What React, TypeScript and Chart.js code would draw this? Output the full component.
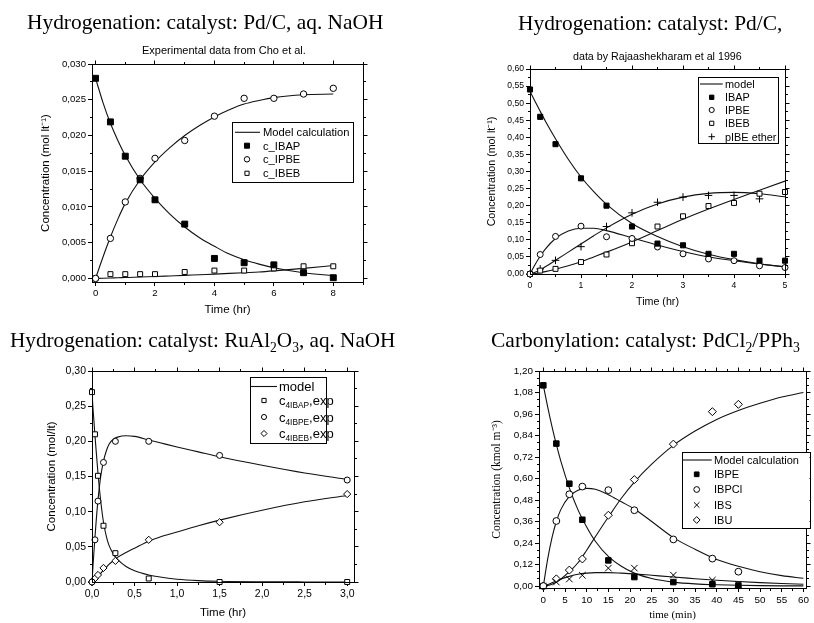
import React, { useEffect, useRef } from 'react';
import { Chart, registerables } from 'chart.js';
import { drawPoint } from 'chart.js/helpers';

Chart.register(...registerables);

// ---------------- Panel 1 data (Cho et al.) ----------------
const p1Time = [0, 0.5, 1, 1.5, 2, 3, 4, 5, 6, 7, 8];
const p1IBAP = [0.028, 0.0219, 0.0171, 0.0138, 0.011, 0.0076, 0.0028, 0.0022, 0.0019, 0.0008, 0.0001];
const p1IPBE = [0, 0.0056, 0.0107, 0.014, 0.0168, 0.0193, 0.0227, 0.0252, 0.0252, 0.0258, 0.0266];
const p1IBEB = [0, 0.0006, 0.0006, 0.0006, 0.0006, 0.0009, 0.0011, 0.0011, 0.0014, 0.0017, 0.0017];
const p1ModelTime = [0, 0.25, 0.5, 0.75, 1, 1.5, 2, 2.5, 3, 3.5, 4, 4.5, 5, 5.5, 6, 7, 8];
const p1ModelIBAP = [0.028, 0.0246, 0.0217, 0.0193, 0.0172, 0.0138, 0.0112, 0.009, 0.0072, 0.0057, 0.0045, 0.0034, 0.0026, 0.002, 0.0015, 0.0008, 0.0004];
const p1ModelIPBE = [0, 0.003, 0.0058, 0.0083, 0.0105, 0.0138, 0.0163, 0.0183, 0.02, 0.0214, 0.0226, 0.0236, 0.0244, 0.0249, 0.0253, 0.0257, 0.0258];
const p1ModelIBEB = [0, 0.00002, 0.00005, 0.0001, 0.00012, 0.0002, 0.00027, 0.00035, 0.00043, 0.00052, 0.0006, 0.0007, 0.0008, 0.0009, 0.00105, 0.0014, 0.0018];
const p1Legend = ['Model calculation', 'c_IBAP', 'c_IPBE', 'c_IBEB'];

// ---------------- Panel 2 data (Rajaashekharam et al. 1996) ----------------
const p2Time = [0, 0.2, 0.5, 1, 1.5, 2, 2.5, 3, 3.5, 4, 4.5, 5];
const p2IBAP = [0.54, 0.46, 0.38, 0.28, 0.2, 0.139, 0.089, 0.084, 0.059, 0.059, 0.039, 0.039];
const p2IPBE = [0, 0.057, 0.11, 0.14, 0.109, 0.104, 0.079, 0.059, 0.044, 0.039, 0.024, 0.019];
const p2IBEB = [0, 0.01, 0.015, 0.035, 0.057, 0.09, 0.139, 0.169, 0.199, 0.208, 0.235, 0.24];
const p2EtherTime = [0, 0.2, 0.5, 1, 1.5, 2, 2.5, 3, 3.5, 4, 4.5];
const p2Ether = [0, 0.015, 0.04, 0.08, 0.139, 0.179, 0.21, 0.225, 0.23, 0.23, 0.22];
const p2ModelTime = [0, 0.1, 0.2, 0.3, 0.5, 0.75, 1, 1.25, 1.5, 2, 2.5, 3, 3.5, 4, 4.5, 5];
const p2ModelIBAP = [0.535, 0.505, 0.476, 0.448, 0.396, 0.336, 0.284, 0.241, 0.204, 0.148, 0.11, 0.08, 0.058, 0.042, 0.03, 0.021];
const p2ModelIPBE = [0, 0.028, 0.052, 0.073, 0.104, 0.126, 0.134, 0.134, 0.127, 0.106, 0.085, 0.066, 0.05, 0.039, 0.029, 0.021];
const p2ModelIBEB = [0, 0.001, 0.004, 0.007, 0.014, 0.024, 0.036, 0.05, 0.064, 0.094, 0.127, 0.16, 0.19, 0.218, 0.245, 0.272];
const p2ModelEther = [0, 0.005, 0.012, 0.021, 0.04, 0.064, 0.088, 0.112, 0.135, 0.175, 0.205, 0.225, 0.236, 0.239, 0.235, 0.226];
const p2Legend = ['model', 'IBAP', 'IPBE', 'IBEB', 'pIBE ether'];

// ---------------- Panel 3 data (RuAl2O3) ----------------
const p3Time = [0, 0.035, 0.07, 0.135, 0.275, 0.667, 1.5, 3.0];
const p3IBAP = [0.27, 0.21, 0.151, 0.08, 0.041, 0.005, 0, 0];
const p3IBPE = [0, 0.06, 0.115, 0.17, 0.2, 0.2, 0.18, 0.145];
const p3IBEB = [0, 0.005, 0.01, 0.02, 0.03, 0.06, 0.085, 0.125];
const p3ModelTime = [0, 0.01, 0.02, 0.035, 0.05, 0.07, 0.1, 0.135, 0.17, 0.2, 0.25, 0.3, 0.4, 0.5, 0.667, 0.8, 1.0, 1.25, 1.5, 2.0, 2.5, 3.0];
const p3ModelIBAP = [0.27, 0.25, 0.233, 0.208, 0.185, 0.155, 0.118, 0.085, 0.064, 0.052, 0.04, 0.032, 0.022, 0.016, 0.01, 0.007, 0.004, 0.002, 0.001, 0.0003, 0.0001, 0];
const p3ModelIBPE = [0, 0.02, 0.038, 0.064, 0.088, 0.116, 0.148, 0.172, 0.187, 0.196, 0.203, 0.206, 0.208, 0.207, 0.202, 0.198, 0.192, 0.185, 0.178, 0.166, 0.155, 0.146];
const p3ModelIBEB = [0, 0.0005, 0.0015, 0.003, 0.005, 0.008, 0.012, 0.017, 0.021, 0.025, 0.03, 0.035, 0.042, 0.048, 0.058, 0.064, 0.071, 0.08, 0.088, 0.102, 0.114, 0.123];
const p3LegendSub = ['4IBAP', '4IBPE', '4IBEB'];

// ---------------- Panel 4 data (Carbonylation) ----------------
const p4Time = [0, 3, 6, 9, 15, 21, 30, 39, 45];
const p4IBPE = [1.12, 0.795, 0.571, 0.37, 0.143, 0.05, 0.022, 0.01, 0.003];
const p4IBPCl = [0, 0.363, 0.512, 0.555, 0.535, 0.423, 0.26, 0.153, 0.08];
const p4IBS = [0, 0.022, 0.039, 0.06, 0.1, 0.1, 0.061, 0.033, 0.01];
const p4IBU = [0, 0.04, 0.089, 0.151, 0.395, 0.594, 0.792, 0.973, 1.014];
const p4ModelTime = [0, 1, 2, 3, 4, 6, 8, 10, 12, 15, 18, 21, 25, 30, 35, 40, 45, 50, 55, 60];
const p4ModelIBPE = [1.12, 1.0, 0.89, 0.79, 0.7, 0.548, 0.425, 0.33, 0.25, 0.165, 0.11, 0.072, 0.042, 0.022, 0.012, 0.007, 0.004, 0.002, 0.001, 0.001];
const p4ModelIBPCl = [0, 0.15, 0.27, 0.36, 0.425, 0.5, 0.535, 0.545, 0.54, 0.51, 0.47, 0.43, 0.36, 0.27, 0.205, 0.148, 0.11, 0.08, 0.058, 0.043];
const p4ModelIBS = [0, 0.008, 0.018, 0.028, 0.038, 0.054, 0.066, 0.072, 0.075, 0.075, 0.072, 0.068, 0.06, 0.05, 0.041, 0.032, 0.025, 0.019, 0.014, 0.01];
const p4ModelIBU = [0, 0.003, 0.01, 0.022, 0.038, 0.08, 0.13, 0.2, 0.275, 0.385, 0.49, 0.58, 0.68, 0.785, 0.865, 0.93, 0.98, 1.02, 1.055, 1.08];
const p4Legend = ['Model calculation', 'IBPE', 'IBPCl', 'IBS', 'IBU'];

// ---------------- styling helpers ----------------
const SANS = '"Liberation Sans", Arial, sans-serif';
const SERIF = '"Liberation Serif", "Times New Roman", serif';
const W = 814;
const H = 623;

type Seg = { t: string; sub?: boolean };
type Marker = { style: string; fill: string; r: number };

const sqFilled = (r: number): Marker => ({ style: 'rect', fill: '#000', r });
const sqOpen = (r: number): Marker => ({ style: 'rect', fill: '#fff', r });
const circOpen = (r: number): Marker => ({ style: 'circle', fill: '#fff', r });
const diamOpen = (r: number): Marker => ({ style: 'rectRot', fill: '#fff', r });
const plus = (r: number): Marker => ({ style: 'cross', fill: '#fff', r });
const xmark = (r: number): Marker => ({ style: 'crossRot', fill: '#fff', r });

const pts = (xs: number[], ys: number[]) => xs.map((x, i) => ({ x, y: ys[i] }));

function markerDs(label: string, xs: number[], ys: number[], m: Marker) {
  return {
    label,
    data: pts(xs, ys),
    showLine: false,
    pointStyle: m.style,
    pointRadius: m.r,
    pointHoverRadius: m.r,
    pointBackgroundColor: m.fill,
    pointBorderColor: '#000',
    pointBorderWidth: 1,
    clip: false,
    order: 0,
  };
}

function modelDs(label: string, xs: number[], ys: number[]) {
  return {
    label,
    data: pts(xs, ys),
    showLine: true,
    pointRadius: 0,
    pointHoverRadius: 0,
    borderColor: '#111',
    borderWidth: 1.1,
    cubicInterpolationMode: 'monotone',
    fill: false,
    order: 1,
  };
}

const fmtInt = (v: number) => String(Math.round(v));
const fmtDec = (d: number) => (v: number) => (Math.abs(v) < 1e-9 ? 0 : v).toFixed(d).replace('.', ',');

interface AxisSpec {
  min: number; max: number; step: number; minor: number;
  fmt: (v: number) => string;
  title: string; titleFamily: string; titleSize: number; titleCenter: number;
  tickSize: number;
}
interface LegendEntry { marker: Marker | null; label: Seg[] }
interface LegendSpec {
  box: [number, number, number, number];
  lineX: [number, number]; markerX: number; textX: number;
  rows: number[]; size: number; entries: LegendEntry[];
}
interface PanelSpec {
  area: { l: number; t: number; r: number; b: number };
  x: AxisSpec; y: AxisSpec;
  heading: { segs: Seg[]; x: number; y: number; size: number };
  sub?: { text: string; x: number; y: number; size: number };
  legend: LegendSpec;
  datasets: any[];
}

function drawRich(ctx: CanvasRenderingContext2D, segs: Seg[], x: number, y: number, size: number, family: string) {
  let cx = x;
  ctx.textAlign = 'left';
  ctx.textBaseline = 'alphabetic';
  for (const s of segs) {
    const fs = s.sub ? size * 0.64 : size;
    ctx.font = `${fs}px ${family}`;
    const dy = s.sub ? size * 0.24 : 0;
    ctx.fillText(s.t, cx, y + dy);
    cx += ctx.measureText(s.t).width;
  }
}

const al = (p: number) => Math.round(p - 0.5) + 0.5;

function minorValues(min: number, max: number, minor: number, majors: number[]) {
  const out: number[] = [];
  for (let k = Math.ceil(min / minor - 1e-9); k * minor <= max + 1e-9; k++) {
    const v = k * minor;
    if (!majors.some((m) => Math.abs(m - v) < minor * 1e-3)) out.push(v);
  }
  return out;
}

function makeDecor(p: PanelSpec) {
  return {
    id: 'decor',
    afterDraw(chart: any) {
      const ctx: CanvasRenderingContext2D = chart.ctx;
      const ca = chart.chartArea;
      const xs = chart.scales.x;
      const ys = chart.scales.y;
      ctx.save();
      ctx.strokeStyle = '#000';
      ctx.lineWidth = 1;
      const L = al(ca.left), R = al(ca.right), T = al(ca.top), B = al(ca.bottom);
      ctx.strokeRect(L, T, R - L, B - T);
      const seg = (x1: number, y1: number, x2: number, y2: number) => {
        ctx.beginPath(); ctx.moveTo(x1, y1); ctx.lineTo(x2, y2); ctx.stroke();
      };
      const xMaj = xs.ticks.map((t: any) => t.value);
      const yMaj = ys.ticks.map((t: any) => t.value);
      for (const v of xMaj) { const px = al(xs.getPixelForValue(v)); seg(px, T, px, T - 4); }
      for (const v of yMaj) { const py = al(ys.getPixelForValue(v)); seg(R, py, R + 4, py); }
      for (const v of minorValues(p.x.min, p.x.max, p.x.minor, xMaj)) {
        const px = al(xs.getPixelForValue(v));
        seg(px, B, px, B + 2.5); seg(px, T, px, T - 2.5);
      }
      for (const v of minorValues(p.y.min, p.y.max, p.y.minor, yMaj)) {
        const py = al(ys.getPixelForValue(v));
        seg(L, py, L - 2.5, py); seg(R, py, R + 2.5, py);
      }
      // headings
      ctx.fillStyle = '#000';
      drawRich(ctx, p.heading.segs, p.heading.x, p.heading.y, p.heading.size, SERIF);
      if (p.sub) {
        ctx.font = `${p.sub.size}px ${SANS}`;
        ctx.textAlign = 'left';
        ctx.textBaseline = 'middle';
        ctx.fillText(p.sub.text, p.sub.x, p.sub.y);
      }
      // legend
      const lg = p.legend;
      const [bl, bt, br, bb] = lg.box;
      ctx.fillStyle = '#fff';
      ctx.fillRect(bl, bt, br - bl, bb - bt);
      ctx.strokeStyle = '#000';
      ctx.lineWidth = 1;
      ctx.strokeRect(al(bl), al(bt), Math.round(br - bl), Math.round(bb - bt));
      lg.entries.forEach((e, i) => {
        const y = lg.rows[i];
        if (!e.marker) {
          ctx.strokeStyle = '#111';
          ctx.lineWidth = 1.1;
          seg(lg.lineX[0], y, lg.lineX[1], y);
        } else {
          ctx.fillStyle = e.marker.fill;
          ctx.strokeStyle = '#000';
          ctx.lineWidth = 1;
          drawPoint(ctx, { pointStyle: e.marker.style as any, radius: e.marker.r * 0.85, rotation: 0, borderWidth: 1 } as any, lg.markerX, y);
        }
        ctx.fillStyle = '#000';
        drawRich(ctx, e.label, lg.textX, y + lg.size * 0.36, lg.size, SANS);
      });
      ctx.restore();
    },
  };
}

function axisOptions(a: AxisSpec, horizontal: boolean, size: number, titlePad: number, fontColor = '#000') {
  return {
    type: 'linear',
    position: horizontal ? 'bottom' : 'left',
    min: a.min,
    max: a.max,
    afterFit: (s: any) => {
      if (horizontal) { s.height = size; s.paddingLeft = 0; s.paddingRight = 0; }
      else { s.width = size; s.paddingTop = 0; s.paddingBottom = 0; }
    },
    ticks: {
      stepSize: a.step,
      includeBounds: false,
      autoSkip: false,
      maxRotation: 0,
      minRotation: 0,
      padding: 2,
      color: fontColor,
      font: { family: SANS, size: a.tickSize },
      callback: (v: any) => a.fmt(Number(v)),
    },
    title: {
      display: true,
      text: a.title,
      color: fontColor,
      font: { family: a.titleFamily, size: a.titleSize },
      padding: horizontal ? { top: 0, bottom: titlePad } : { top: titlePad, bottom: 0 },
    },
    grid: { display: true, drawOnChartArea: false, drawTicks: true, tickLength: 4, color: '#000', lineWidth: 1 },
    border: { display: true, color: '#000', width: 1 },
  };
}

function buildConfig(p: PanelSpec) {
  const { l, t, r, b } = p.area;
  const xlh = p.x.titleSize * 1.2;
  const XH = Math.min(p.x.titleCenter - b + xlh / 2, H - b);
  const xpb = Math.max(0, b + XH - xlh / 2 - p.x.titleCenter);
  const YW = 64;
  const ylh = p.y.titleSize * 1.2;
  const ypt = Math.max(0, p.y.titleCenter - (l - YW) - ylh / 2);
  return {
    type: 'scatter',
    data: { datasets: p.datasets },
    options: {
      responsive: false,
      animation: false,
      events: [],
      layout: { autoPadding: false, padding: { left: l - YW, top: t, right: W - r, bottom: H - b - XH } },
      plugins: { legend: { display: false }, tooltip: { enabled: false }, title: { display: false } },
      scales: {
        x: axisOptions(p.x, true, XH, xpb),
        y: axisOptions(p.y, false, YW, ypt),
      },
    },
    plugins: [makeDecor(p)],
  } as any;
}

// ---------------- panel specs ----------------
const panel1: PanelSpec = {
  area: { l: 92, t: 64, r: 363, b: 282 },
  x: { min: -0.12, max: 9, step: 2, minor: 1, fmt: fmtInt, title: 'Time (hr)', titleFamily: SANS, titleSize: 11.5, titleCenter: 310, tickSize: 9.6 },
  y: { min: -0.0005, max: 0.03, step: 0.005, minor: 0.0025, fmt: fmtDec(3), title: 'Concentration (mol lt\u207B\u00B9)', titleFamily: SANS, titleSize: 11.5, titleCenter: 46, tickSize: 9.6 },
  heading: { segs: [{ t: 'Hydrogenation: catalyst: Pd/C, aq. NaOH' }], x: 27, y: 29.3, size: 21.4 },
  sub: { text: 'Experimental data from Cho et al.', x: 142, y: 51, size: 11 },
  legend: {
    box: [232, 122, 353, 182], lineX: [235, 260], markerX: 247, textX: 263,
    rows: [132.3, 145.7, 159.3, 173.3], size: 11.2,
    entries: [
      { marker: null, label: [{ t: p1Legend[0] }] },
      { marker: sqFilled(4.2), label: [{ t: p1Legend[1] }] },
      { marker: circOpen(3.2), label: [{ t: p1Legend[2] }] },
      { marker: sqOpen(3.5), label: [{ t: p1Legend[3] }] },
    ],
  },
  datasets: [
    markerDs(p1Legend[1], p1Time, p1IBAP, sqFilled(4.2)),
    markerDs(p1Legend[2], p1Time, p1IPBE, circOpen(3.2)),
    markerDs(p1Legend[3], p1Time, p1IBEB, sqOpen(3.5)),
    modelDs('model IBAP', p1ModelTime, p1ModelIBAP),
    modelDs('model IPBE', p1ModelTime, p1ModelIPBE),
    modelDs('model IBEB', p1ModelTime, p1ModelIBEB),
  ],
};

const panel2: PanelSpec = {
  area: { l: 530, t: 69, r: 785, b: 274 },
  x: { min: 0, max: 5, step: 1, minor: 0.5, fmt: fmtInt, title: 'Time (hr)', titleFamily: SANS, titleSize: 10.7, titleCenter: 301.7, tickSize: 8.6 },
  y: { min: 0, max: 0.6, step: 0.05, minor: 0.025, fmt: fmtDec(2), title: 'Concentration (mol lt\u207B\u00B9)', titleFamily: SANS, titleSize: 10.7, titleCenter: 491.7, tickSize: 8.6 },
  heading: { segs: [{ t: 'Hydrogenation: catalyst: Pd/C,' }], x: 518, y: 30, size: 21.4 },
  sub: { text: 'data by Rajaashekharam et al 1996', x: 573, y: 57.3, size: 10.7 },
  legend: {
    box: [698, 77, 778, 143], lineX: [700, 722.7], markerX: 711.7, textX: 725,
    rows: [84, 97.3, 110, 123.3, 136.7], size: 10.9,
    entries: [
      { marker: null, label: [{ t: p2Legend[0] }] },
      { marker: sqFilled(3.6), label: [{ t: p2Legend[1] }] },
      { marker: circOpen(3), label: [{ t: p2Legend[2] }] },
      { marker: sqOpen(3.5), label: [{ t: p2Legend[3] }] },
      { marker: plus(3.8), label: [{ t: p2Legend[4] }] },
    ],
  },
  datasets: [
    markerDs(p2Legend[1], p2Time, p2IBAP, sqFilled(3.6)),
    markerDs(p2Legend[2], p2Time, p2IPBE, circOpen(3)),
    markerDs(p2Legend[3], p2Time, p2IBEB, sqOpen(3.5)),
    markerDs(p2Legend[4], p2EtherTime, p2Ether, plus(3.8)),
    modelDs('model IBAP', p2ModelTime, p2ModelIBAP),
    modelDs('model IPBE', p2ModelTime, p2ModelIPBE),
    modelDs('model IBEB', p2ModelTime, p2ModelIBEB),
    modelDs('model ether', p2ModelTime, p2ModelEther),
  ],
};

const panel3: PanelSpec = {
  area: { l: 92, t: 371, r: 354, b: 582 },
  x: { min: 0, max: 3.08, step: 0.5, minor: 0.25, fmt: fmtDec(1), title: 'Time (hr)', titleFamily: SANS, titleSize: 11.5, titleCenter: 613, tickSize: 10.5 },
  y: { min: 0, max: 0.3, step: 0.05, minor: 0.025, fmt: fmtDec(2), title: 'Concentration (mol/lt)', titleFamily: SANS, titleSize: 11.5, titleCenter: 51.7, tickSize: 10.5 },
  heading: {
    segs: [{ t: 'Hydrogenation: catalyst: RuAl' }, { t: '2', sub: true }, { t: 'O' }, { t: '3', sub: true }, { t: ', aq. NaOH' }],
    x: 10, y: 346.7, size: 21.2,
  },
  legend: {
    box: [250, 377, 326, 443], lineX: [251, 277], markerX: 264, textX: 279,
    rows: [386.5, 400.5, 417, 433.5], size: 13,
    entries: [
      { marker: null, label: [{ t: 'model' }] },
      { marker: sqOpen(3.5), label: [{ t: 'c' }, { t: p3LegendSub[0], sub: true }, { t: ',exp' }] },
      { marker: circOpen(3), label: [{ t: 'c' }, { t: p3LegendSub[1], sub: true }, { t: ',exp' }] },
      { marker: diamOpen(3.6), label: [{ t: 'c' }, { t: p3LegendSub[2], sub: true }, { t: ',exp' }] },
    ],
  },
  datasets: [
    markerDs('c4IBAP,exp', p3Time, p3IBAP, sqOpen(3.5)),
    markerDs('c4IBPE,exp', p3Time, p3IBPE, circOpen(3)),
    markerDs('c4IBEB,exp', p3Time, p3IBEB, diamOpen(3.6)),
    modelDs('model IBAP', p3ModelTime, p3ModelIBAP),
    modelDs('model IBPE', p3ModelTime, p3ModelIBPE),
    modelDs('model IBEB', p3ModelTime, p3ModelIBEB),
  ],
};

const panel4: PanelSpec = {
  area: { l: 539, t: 371, r: 806, b: 588 },
  x: { min: -1, max: 60.6, step: 5, minor: 2.5, fmt: fmtInt, title: 'time (min)', titleFamily: SERIF, titleSize: 11, titleCenter: 615, tickSize: 9.9 },
  y: { min: -0.011, max: 1.2, step: 0.12, minor: 0.04, fmt: fmtDec(2), title: 'Concentration (kmol m\u207B\u00B3)', titleFamily: SERIF, titleSize: 11.5, titleCenter: 496.7, tickSize: 9.9 },
  heading: {
    segs: [{ t: 'Carbonylation: catalyst: PdCl' }, { t: '2', sub: true }, { t: '/PPh' }, { t: '3', sub: true }],
    x: 491, y: 346.7, size: 21.5,
  },
  legend: {
    box: [682, 452, 809.5, 528], lineX: [682, 711.7], markerX: 696.7, textX: 714,
    rows: [460, 474.3, 489.5, 505, 520], size: 11,
    entries: [
      { marker: null, label: [{ t: p4Legend[0] }] },
      { marker: sqFilled(3.9), label: [{ t: p4Legend[1] }] },
      { marker: circOpen(3.4), label: [{ t: p4Legend[2] }] },
      { marker: xmark(4.6), label: [{ t: p4Legend[3] }] },
      { marker: diamOpen(4), label: [{ t: p4Legend[4] }] },
    ],
  },
  datasets: [
    markerDs(p4Legend[1], p4Time, p4IBPE, sqFilled(3.9)),
    markerDs(p4Legend[2], p4Time, p4IBPCl, circOpen(3.4)),
    markerDs(p4Legend[3], p4Time, p4IBS, xmark(4.6)),
    markerDs(p4Legend[4], p4Time, p4IBU, diamOpen(4)),
    modelDs('model IBPE', p4ModelTime, p4ModelIBPE),
    modelDs('model IBPCl', p4ModelTime, p4ModelIBPCl),
    modelDs('model IBS', p4ModelTime, p4ModelIBS),
    modelDs('model IBU', p4ModelTime, p4ModelIBU),
  ],
};

const PANELS = [panel1, panel2, panel3, panel4];

export default function App() {
  const refs = useRef<(HTMLCanvasElement | null)[]>([]);
  useEffect(() => {
    const charts = PANELS.map((p, i) => new Chart(refs.current[i] as HTMLCanvasElement, buildConfig(p)));
    return () => charts.forEach((c) => c.destroy());
  }, []);
  return (
    <div style={{ position: 'absolute', left: 0, top: 0, width: W, height: H, background: '#fff' }}>
      {PANELS.map((_, i) => (
        <canvas
          key={i}
          ref={(el) => { refs.current[i] = el; }}
          width={W}
          height={H}
          style={{ position: 'absolute', left: 0, top: 0, width: W, height: H }}
        />
      ))}
    </div>
  );
}
